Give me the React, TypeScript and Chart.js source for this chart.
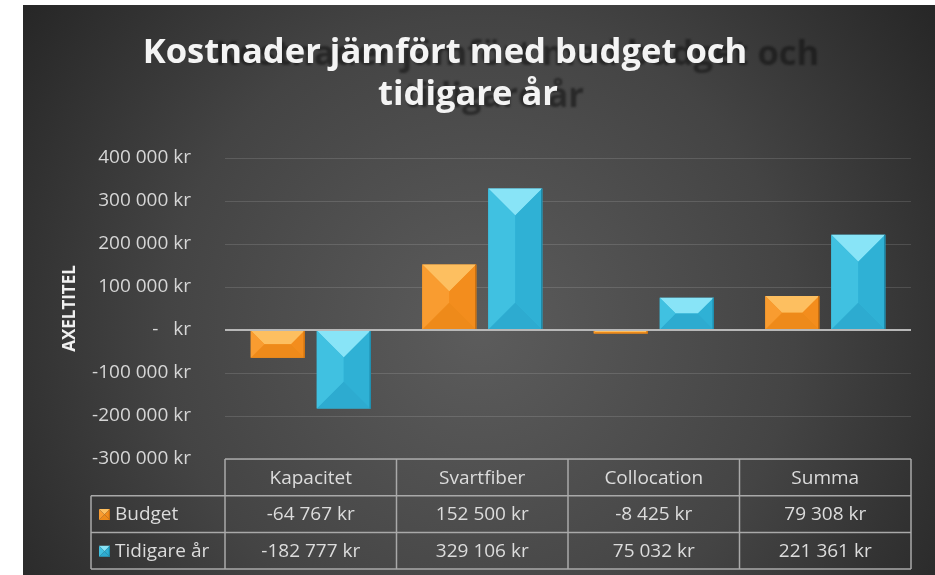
import React, { useEffect, useRef } from "react";
import { Chart, registerables } from "chart.js";

Chart.register(...registerables);

// ---------- data ----------
const categories = ["Kapacitet", "Svartfiber", "Collocation", "Summa"];
const seriesNames = ["Budget", "Tidigare år"];
const budget = [-64767, 152500, -8425, 79308];
const tidigare = [-182777, 329106, 75032, 221361];
const yMin = -300000;
const yMax = 400000;
const yStep = 100000;
const titleLines = ["Kostnader jämfört med budget och", "tidigare år"];
const axisTitle = "AXELTITEL";

// ---------- styles ----------
const FONT = "'Open Sans', 'DejaVu Sans', sans-serif";
const palettes = [
  { base: "#f7931e", top: "#fdbf60", left: "#f99c30", right: "#f38d1d", bottom: "#ee8a1a", edge: "#c96f10" },
  { base: "#34b9dc", top: "#88e4f7", left: "#40c1e1", right: "#2fb1d5", bottom: "#2dabd0", edge: "#1b88a8" },
];

function fmtKr(v: number): string {
  if (v === 0) return "-   kr";
  const s = Math.abs(Math.round(v))
    .toString()
    .replace(/\B(?=(\d{3})+(?!\d))/g, " ");
  return (v < 0 ? "-" : "") + s + " kr";
}

function drawBevel(ctx: CanvasRenderingContext2D, L: number, T: number, R: number, B: number, pal: any) {
  const w = R - L;
  const h = B - T;
  if (w <= 0 || h <= 0) return;
  const d = Math.min(w / 2, h / 2);
  const poly = (pts: number[][], color: string) => {
    ctx.beginPath();
    ctx.moveTo(pts[0][0], pts[0][1]);
    for (let i = 1; i < pts.length; i++) ctx.lineTo(pts[i][0], pts[i][1]);
    ctx.closePath();
    ctx.fillStyle = color;
    ctx.fill();
  };
  poly([[L, T], [R, T], [R - d, T + d], [L + d, T + d]], pal.top);
  poly([[L, B], [R, B], [R - d, B - d], [L + d, B - d]], pal.bottom);
  poly([[L, T], [L + d, T + d], [L + d, B - d], [L, B]], pal.left);
  poly([[R, T], [R - d, T + d], [R - d, B - d], [R, B]], pal.right);
  ctx.fillStyle = pal.edge;
  ctx.fillRect(R - 1.2, T, 1.2, h);
}

const backgroundPlugin = {
  id: "panelBackground",
  beforeDraw(chart: any) {
    const ctx = chart.ctx as CanvasRenderingContext2D;
    ctx.save();
    ctx.fillStyle = "#ffffff";
    ctx.fillRect(0, 0, chart.width, chart.height);
    const g = ctx.createRadialGradient(480, 330, 0, 480, 330, 570);
    g.addColorStop(0, "#5c5c5c");
    g.addColorStop(0.55, "#444444");
    g.addColorStop(1, "#252525");
    ctx.fillStyle = g;
    ctx.fillRect(23, 5, chart.width - 23, chart.height - 5);
    ctx.restore();
  },
};

const bevelPlugin = {
  id: "barBevel",
  afterDatasetsDraw(chart: any) {
    const ctx = chart.ctx as CanvasRenderingContext2D;
    ctx.save();
    chart.data.datasets.forEach((_ds: any, di: number) => {
      const meta = chart.getDatasetMeta(di);
      meta.data.forEach((el: any) => {
        const p = el.getProps(["x", "y", "base", "width"], true);
        const L = p.x - p.width / 2;
        const R = p.x + p.width / 2;
        const T = Math.min(p.y, p.base);
        const B = Math.max(p.y, p.base);
        drawBevel(ctx, L, T, R, B, palettes[di]);
      });
    });
    // zero axis line on top of the bars
    const ys = chart.scales.y;
    const y0 = ys.getPixelForValue(0);
    ctx.strokeStyle = "#b8b8b8";
    ctx.lineWidth = 2;
    ctx.beginPath();
    ctx.moveTo(chart.chartArea.left, y0);
    ctx.lineTo(chart.chartArea.right, y0);
    ctx.stroke();
    ctx.restore();
  },
};

const titlePlugin = {
  id: "shadowTitle",
  afterDraw(chart: any) {
    const ctx = chart.ctx as CanvasRenderingContext2D;
    ctx.save();
    let size = 34;
    ctx.font = `bold ${size}px ${FONT}`;
    const w0 = ctx.measureText(titleLines[0]).width;
    size = size * (605 / w0);
    ctx.font = `bold ${size}px ${FONT}`;
    ctx.textAlign = "center";
    ctx.textBaseline = "alphabetic";
    const centers = [445, 468];
    const baselines = [63, 105];
    const shadowDx = [72, 26];
    // shadow
    ctx.filter = "blur(1.3px)";
    ctx.fillStyle = "rgba(15,15,15,0.55)";
    titleLines.forEach((line, i) => {
      ctx.fillText(line, centers[i] + shadowDx[i], baselines[i] + 2);
    });
    ctx.filter = "none";
    ctx.fillStyle = "#f4f4f4";
    titleLines.forEach((line, i) => {
      ctx.fillText(line, centers[i], baselines[i]);
    });
    ctx.restore();
  },
};

const tablePlugin = {
  id: "dataTable",
  afterDraw(chart: any) {
    const ctx = chart.ctx as CanvasRenderingContext2D;
    const xs = chart.scales.x;
    const area = chart.chartArea;
    const n = categories.length;
    const catW = (area.right - area.left) / n;
    const top = area.bottom;
    const rowH = 36.7;
    const legendLeft = 91;
    const rows = [top, top + rowH, top + 2 * rowH, top + 3 * rowH];
    const colEdges: number[] = [];
    for (let i = 0; i < n; i++) colEdges.push(xs.getPixelForValue(i) - catW / 2);
    colEdges.push(xs.getPixelForValue(n - 1) + catW / 2);

    ctx.save();
    ctx.strokeStyle = "#a9a9a9";
    ctx.lineWidth = 1.5;
    ctx.beginPath();
    ctx.moveTo(colEdges[0], rows[0]);
    ctx.lineTo(colEdges[n], rows[0]);
    for (let r = 1; r <= 3; r++) {
      ctx.moveTo(legendLeft, rows[r]);
      ctx.lineTo(colEdges[n], rows[r]);
    }
    ctx.moveTo(legendLeft, rows[1]);
    ctx.lineTo(legendLeft, rows[3]);
    colEdges.forEach((x) => {
      ctx.moveTo(x, rows[0]);
      ctx.lineTo(x, rows[3]);
    });
    ctx.stroke();

    ctx.font = `19px ${FONT}`;
    ctx.textAlign = "center";
    ctx.textBaseline = "middle";
    ctx.fillStyle = "#dcdcdc";
    categories.forEach((c, i) => {
      ctx.fillText(c, xs.getPixelForValue(i), (rows[0] + rows[1]) / 2 + 1);
    });
    const series = [budget, tidigare];
    series.forEach((vals, si) => {
      const cy = (rows[si + 1] + rows[si + 2]) / 2 + 1;
      vals.forEach((v, i) => {
        ctx.textAlign = "center";
        ctx.fillStyle = "#dcdcdc";
        ctx.fillText(fmtKr(v), xs.getPixelForValue(i), cy);
      });
      const kx = legendLeft + 8;
      drawBevel(ctx, kx, cy - 6, kx + 11, cy + 5, palettes[si]);
      ctx.textAlign = "left";
      ctx.fillStyle = "#dcdcdc";
      ctx.fillText(seriesNames[si], kx + 16, cy);
    });
    ctx.restore();
  },
};

export default function App() {
  const ref = useRef<HTMLCanvasElement>(null);

  useEffect(() => {
    const canvas = ref.current;
    if (!canvas) return;
    const chart = new Chart(canvas, {
      type: "bar",
      data: {
        labels: categories,
        datasets: [
          {
            label: seriesNames[0],
            data: budget,
            backgroundColor: palettes[0].base,
            borderWidth: 0,
            categoryPercentage: 0.77,
            barPercentage: 0.818,
          },
          {
            label: seriesNames[1],
            data: tidigare,
            backgroundColor: palettes[1].base,
            borderWidth: 0,
            categoryPercentage: 0.77,
            barPercentage: 0.818,
          },
        ],
      },
      options: {
        animation: false,
        responsive: false,
        devicePixelRatio: 1,
        layout: { padding: { left: 0, top: 158, right: 24, bottom: 116 } },
        plugins: {
          legend: { display: false },
          title: { display: false },
          tooltip: { enabled: false },
        },
        scales: {
          x: { display: false },
          y: {
            min: yMin,
            max: yMax,
            afterFit: (scale: any) => {
              scale.width = 225;
            },
            border: { display: false },
            grid: {
              drawTicks: false,
              color: (c: any) => (c.tick && c.tick.value === 0 ? "rgba(0,0,0,0)" : "rgba(255,255,255,0.13)"),
              lineWidth: 1,
            },
            ticks: {
              stepSize: yStep,
              padding: 34,
              color: "#d6d6d6",
              font: { family: FONT, size: 19 },
              callback: (v: any) => fmtKr(Number(v)),
            },
            title: {
              display: true,
              text: axisTitle,
              color: "#f0f0f0",
              font: { family: FONT, size: 17, weight: "bold" },
              padding: { top: 60, bottom: 0 },
            },
          },
        },
      },
      plugins: [backgroundPlugin, bevelPlugin, titlePlugin, tablePlugin],
    } as any);
    return () => chart.destroy();
  }, []);

  return (
    <div style={{ position: "absolute", left: 0, top: 0, width: 935, height: 575 }}>
      <canvas ref={ref} width={935} height={575} style={{ display: "block", width: 935, height: 575 }} />
    </div>
  );
}
